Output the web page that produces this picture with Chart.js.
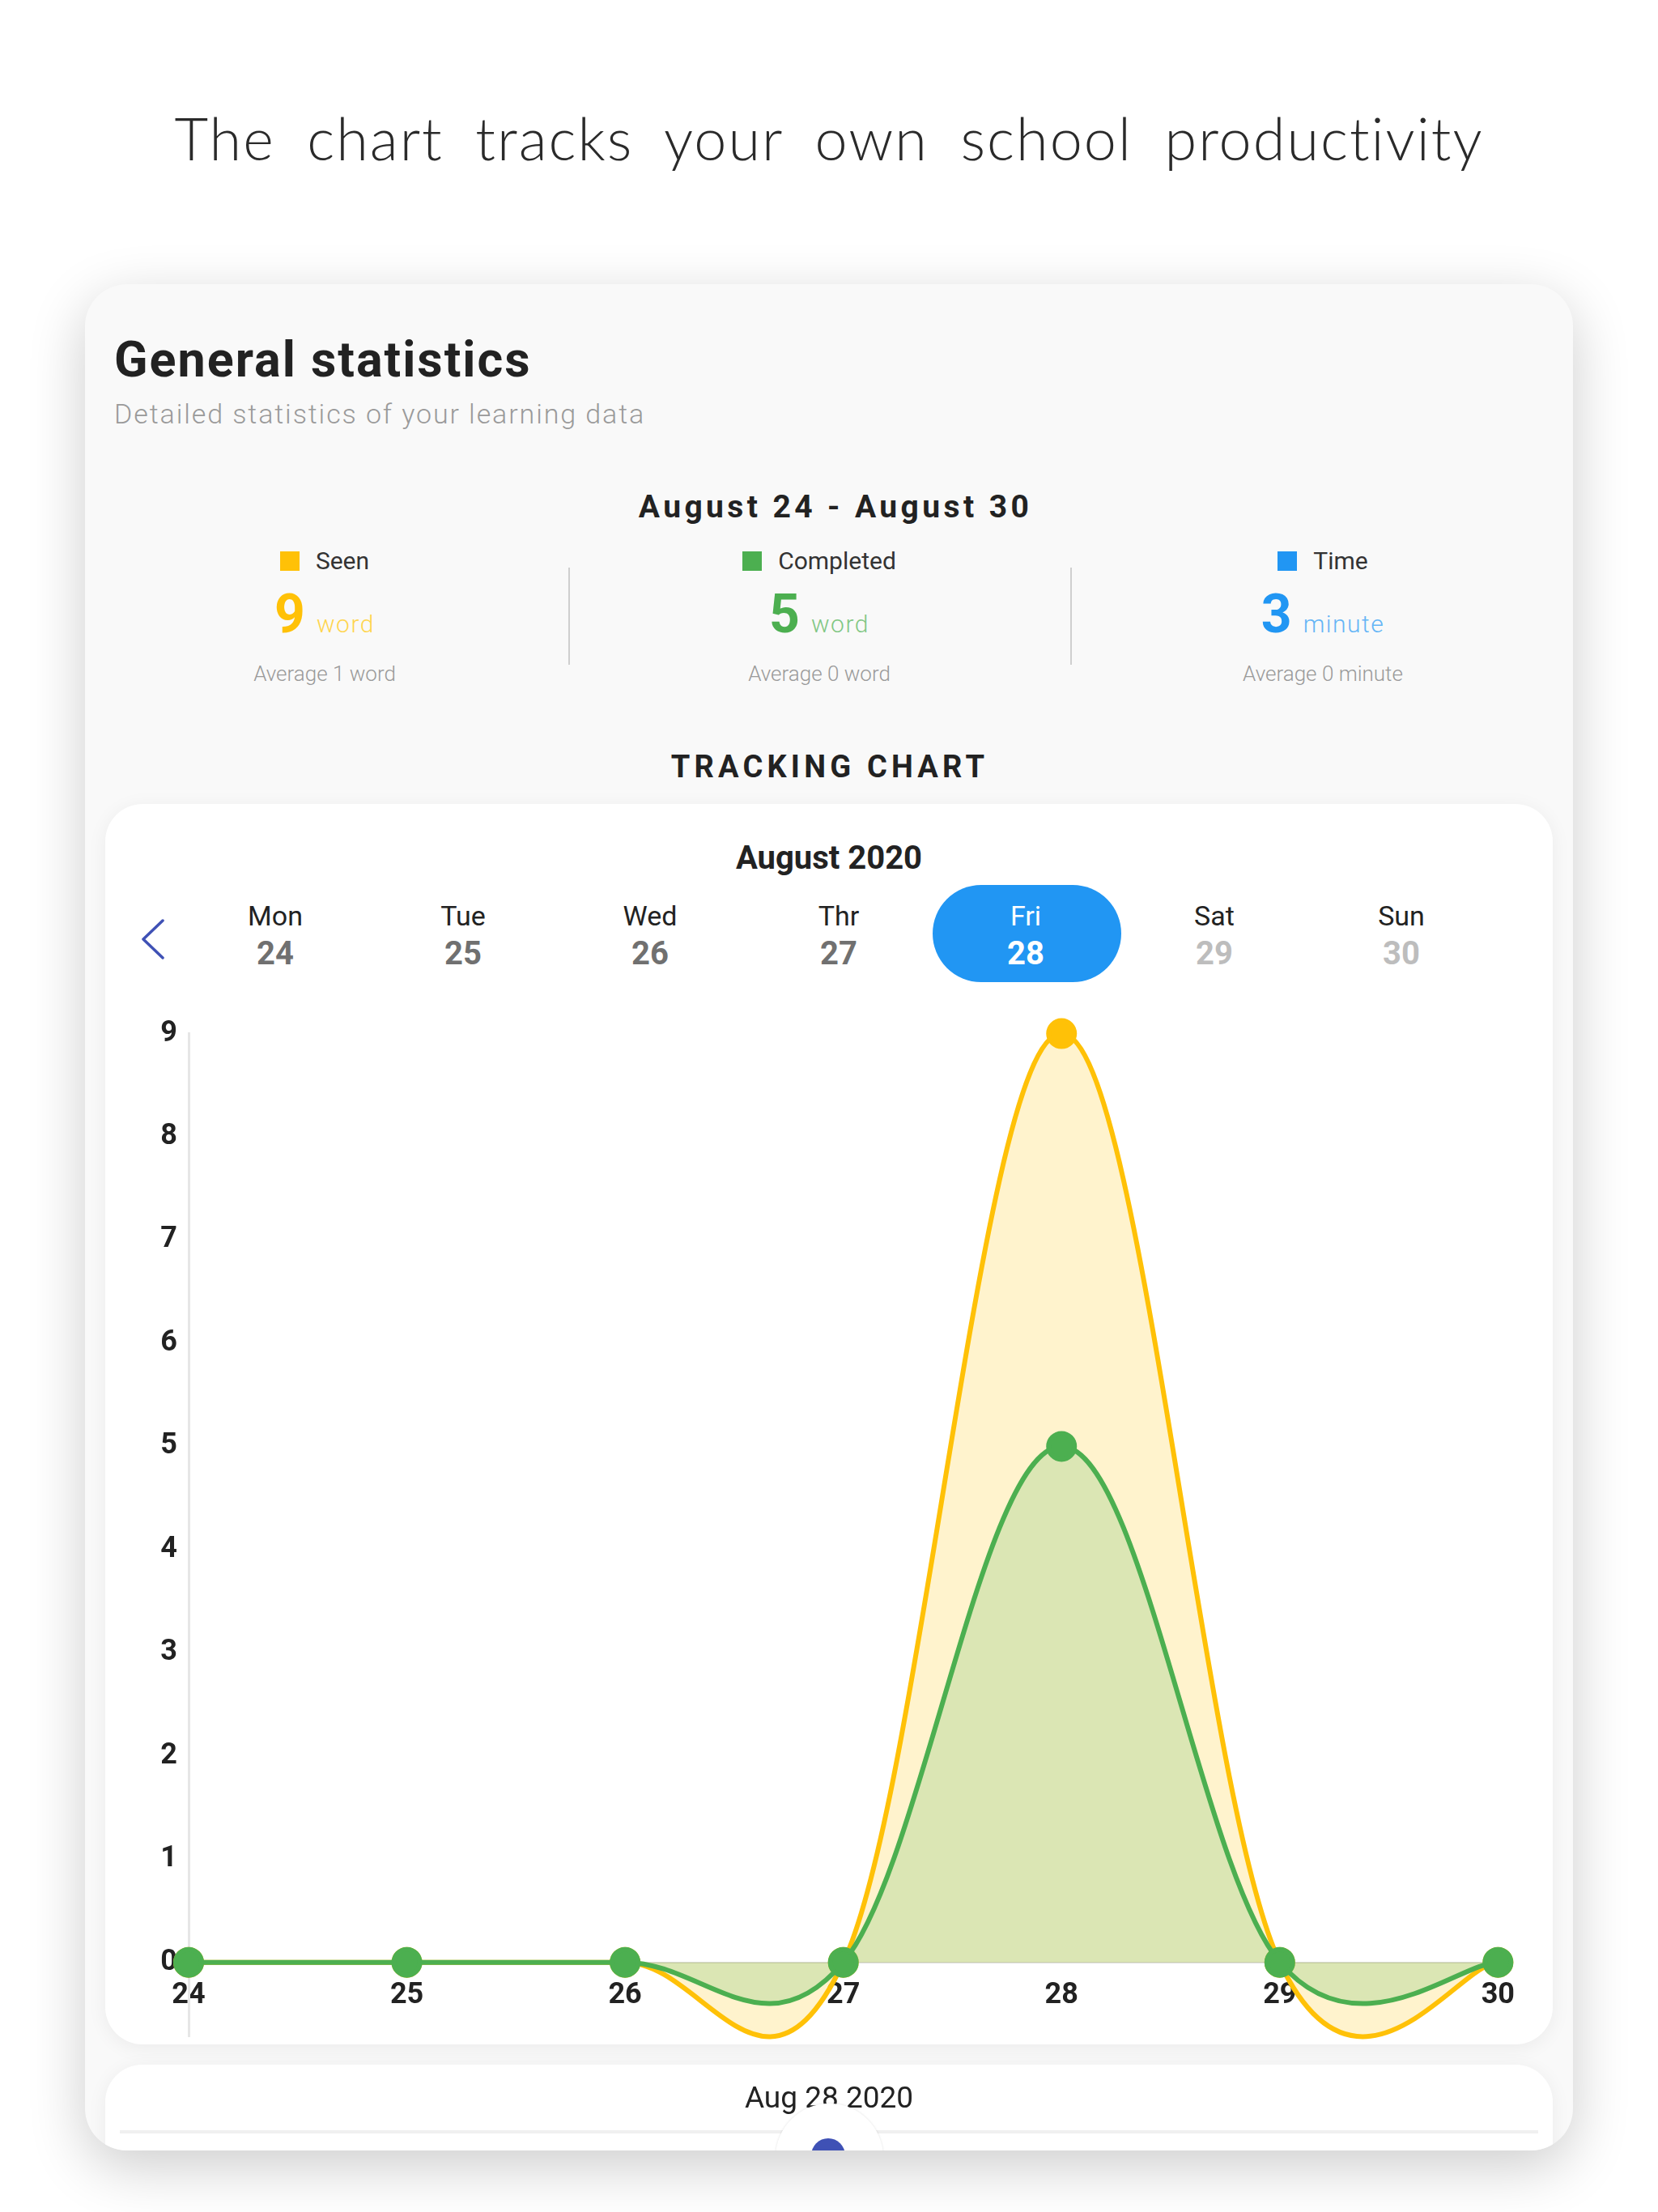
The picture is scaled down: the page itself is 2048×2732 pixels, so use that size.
<!DOCTYPE html>
<html>
<head>
<meta charset="utf-8">
<script src="https://cdn.jsdelivr.net/npm/chart.js@4/dist/chart.umd.min.js"></script>
<style>
  html, body { margin: 0; padding: 0; background: #fff; }
  body { width: 2048px; height: 2732px; position: relative; overflow: hidden; font-family: Roboto, sans-serif; }
  .abs { position: absolute; line-height: 1; white-space: nowrap; }
  #title { left: 0; width: 2048px; top: 134px; text-align: center; font-family: Lato, sans-serif; font-weight: 300;
           font-size: 72px; color: #2a2a2a; letter-spacing: 2px; word-spacing: 18px; }
  #card { position: absolute; left: 105px; top: 351px; width: 1838px; height: 2305px; background: #f9f9f9;
          border-radius: 52px; overflow: hidden; box-shadow: 0 20px 70px rgba(0,0,0,0.20); }
  .col { position: absolute; width: 560px; margin-left: -280px; display: flex; justify-content: center; }
  .sq { display: inline-block; width: 24px; height: 24px; margin-right: 20px; }
  .inner { position: absolute; left: 25px; width: 1788px; background: #fff; border-radius: 46px;
           box-shadow: 0 4px 24px rgba(0,0,0,0.06); overflow: hidden; }
  .day { position: absolute; width: 200px; margin-left: -100px; text-align: center; line-height: 1; }
</style>
</head>
<body>
<div id="title" class="abs">The chart tracks your own school productivity</div>

<div id="card">
  <div class="abs" style="left:36px; top:63px; font-size:61px; font-weight:700; color:#222; letter-spacing:2px;">General statistics</div>
  <div class="abs" style="left:36px; top:143px; font-size:34px; font-weight:300; color:#9a9a9a; letter-spacing:1.9px;">Detailed statistics of your learning data</div>
  <div class="abs" style="left:8px; width:1838px; text-align:center; top:256px; font-size:39px; font-weight:700; color:#222; letter-spacing:4.4px;">August 24 - August 30</div>

  <!-- legend row -->
  <div class="col abs" style="left:296px; top:327px; font-size:30px; color:#333; align-items:center;"><span class="sq" style="background:#FFC107"></span>Seen</div>
  <div class="col abs" style="left:907px; top:327px; font-size:30px; color:#333; align-items:center;"><span class="sq" style="background:#4CAF50"></span>Completed</div>
  <div class="col abs" style="left:1529px; top:327px; font-size:30px; color:#333; align-items:center;"><span class="sq" style="background:#2196F3"></span>Time</div>

  <!-- numbers -->
  <div class="col abs" style="left:296px; top:375px; align-items:baseline;"><span style="font-size:66px; font-weight:700; color:#FFC107;">9</span><span style="font-size:30px; font-weight:300; color:#FFD54F; margin-left:14px; letter-spacing:1.5px;">word</span></div>
  <div class="col abs" style="left:907px; top:375px; align-items:baseline;"><span style="font-size:66px; font-weight:700; color:#4CAF50;">5</span><span style="font-size:30px; font-weight:300; color:#81C784; margin-left:14px; letter-spacing:1.5px;">word</span></div>
  <div class="col abs" style="left:1529px; top:375px; align-items:baseline;"><span style="font-size:66px; font-weight:700; color:#2196F3;">3</span><span style="font-size:30px; font-weight:300; color:#64B5F6; margin-left:14px; letter-spacing:1.5px;">minute</span></div>

  <!-- averages -->
  <div class="col abs" style="left:296px; top:468px; font-size:26px; font-weight:300; color:#9a9a9a;">Average 1 word</div>
  <div class="col abs" style="left:907px; top:468px; font-size:26px; font-weight:300; color:#9a9a9a;">Average 0 word</div>
  <div class="col abs" style="left:1529px; top:468px; font-size:26px; font-weight:300; color:#9a9a9a;">Average 0 minute</div>

  <div style="position:absolute; left:597px; top:350px; width:2px; height:120px; background:#cfcfcf;"></div>
  <div style="position:absolute; left:1217px; top:350px; width:2px; height:120px; background:#cfcfcf;"></div>

  <div class="abs" style="left:1px; width:1838px; text-align:center; top:577px; font-size:38px; font-weight:700; color:#222; letter-spacing:5.2px;">TRACKING CHART</div>

  <!-- chart card -->
  <div class="inner" style="top:642px; height:1532px;">
    <div class="abs" style="left:0; width:1788px; text-align:center; top:47px; font-size:40px; font-weight:700; color:#222;">August 2020</div>
    <div style="position:absolute; left:1022px; top:100px; width:233px; height:120px; border-radius:60px; background:#2196F3;"></div>
    <svg style="position:absolute; left:44px; top:142px;" width="30" height="50" viewBox="0 0 30 50">
      <polyline points="27,2 3,25 27,48" fill="none" stroke="#3F51B5" stroke-width="3.5" stroke-linejoin="round" stroke-linecap="round"/>
    </svg>
    <div id="week"></div>
  </div>

  <div style="position:absolute; left:48px; top:890px; width:1738px; height:1310px;">
    <canvas id="trackChart"></canvas>
  </div>

  <!-- bottom card (cut off by the outer card) -->
  <div class="inner" style="top:2199px; height:200px;">
    <div class="abs" style="left:0; width:1788px; text-align:center; top:22px; font-size:37px; color:#222;">Aug 28 2020</div>
    <div style="position:absolute; left:18px; top:81px; width:1752px; height:4px; background:#f0f0f0;"></div>
    <div style="position:absolute; left:828px; top:48px; width:133px; height:133px; border-radius:50%; background:#fff; box-shadow:0 0 3px rgba(0,0,0,0.12);">
      <div style="position:absolute; left:44px; top:43px; width:42px; height:42px; border-radius:50%; background:#3F51B5;"></div>
    </div>
  </div>
</div>

<script>
// ================= Dữ liệu =================
const DAYS = ['24', '25', '26', '27', '28', '29', '30'];
const WEEKDAYS = ['Mon', 'Tue', 'Wed', 'Thr', 'Fri', 'Sat', 'Sun'];
const SEEN = [0, 0, 0, 0, 9, 0, 0];
const COMPLETED = [0, 0, 0, 0, 5, 0, 0];
const Y_TICKS = [0, 1, 2, 3, 4, 5, 6, 7, 8, 9];
const SELECTED = 4;   // Fri 28

const YELLOW = '#FFC107';
const GREEN = '#4CAF50';

// ================= Dải ngày trong tuần =================
const week = document.getElementById('week');
const colX = [210, 442, 673, 906, 1137, 1370, 1601];
WEEKDAYS.forEach((name, i) => {
  const numColor = i === SELECTED ? '#fff' : (i > SELECTED ? '#bdbdbd' : '#707070');
  const nameColor = i === SELECTED ? '#fff' : '#222';
  const el = document.createElement('div');
  el.className = 'day';
  el.style.left = colX[i] + 'px';
  el.style.top = '121px';
  el.innerHTML =
    `<div style="font-size:34px;color:${nameColor};">${name}</div>` +
    `<div style="font-size:40px;font-weight:700;color:${numColor};margin-top:10px;">${DAYS[i]}</div>`;
  week.appendChild(el);
});

// ================= Đường cong =================
// tiếp tuyến tại mỗi điểm = (điểm sau - điểm trước) * hệ số, giống cubic bezier của app gốc
const CURVE_INTENSITY = 0.18;
const cubicCurve = {
  id: 'cubicCurve',
  beforeDatasetsDraw(chart) {
    chart.data.datasets.forEach((ds, di) => {
      const meta = chart.getDatasetMeta(di);
      meta.dataset.updateControlPoints(chart.chartArea, 'x');
      const pts = meta.data;
      pts.forEach((p, i) => {
        const prev = pts[Math.max(i - 1, 0)];
        const next = pts[Math.min(i + 1, pts.length - 1)];
        const dx = (next.x - prev.x) * CURVE_INTENSITY;
        const dy = (next.y - prev.y) * CURVE_INTENSITY;
        p.cp1x = p.x - dx; p.cp1y = p.y - dy;
        p.cp2x = p.x + dx; p.cp2y = p.y + dy;
      });
      meta.dataset._path = undefined;
    });
  }
};

// ================= Biểu đồ =================
const tickFont = { family: 'Roboto', size: 36, weight: 'bold' };

new Chart(document.getElementById('trackChart'), {
  type: 'line',
  data: {
    labels: DAYS,
    datasets: [
      {
        label: 'Completed',
        data: COMPLETED,
        borderColor: GREEN,
        backgroundColor: 'rgba(76, 175, 80, 0.2)',
        pointBackgroundColor: GREEN,
        pointBorderColor: GREEN,
        borderWidth: 6,
        pointRadius: 16,
        tension: 0.4,
        fill: 'origin',
        clip: false
      },
      {
        label: 'Seen',
        data: SEEN,
        borderColor: YELLOW,
        backgroundColor: 'rgba(255, 193, 7, 0.2)',
        pointBackgroundColor: YELLOW,
        pointBorderColor: YELLOW,
        borderWidth: 6,
        pointRadius: 16,
        tension: 0.4,
        fill: 'origin',
        clip: false
      }
    ]
  },
  options: {
    responsive: true,
    maintainAspectRatio: false,
    animation: false,
    layout: { padding: 0 },
    elements: { line: { capBezierPoints: false } },
    plugins: { legend: { display: false }, tooltip: { enabled: false } },
    scales: {
      x: {
        position: { y: 0 },
        grid: { display: false, drawTicks: false },
        border: { display: true, color: '#dedede', width: 2 },
        ticks: { color: '#222', font: tickFont, padding: 20, maxRotation: 0, autoSkip: false }
      },
      y: {
        min: -0.72,
        max: 9,
        afterBuildTicks: s => { s.ticks = Y_TICKS.map(v => ({ value: v })); },
        afterFit: s => { s.width = 80; },
        grid: { display: false, drawTicks: false },
        border: { display: true, color: '#e6e6e6', width: 3 },
        ticks: { color: '#222', font: tickFont, padding: 14 }
      }
    }
  },
  plugins: [cubicCurve]
});
</script>
</body>
</html>
